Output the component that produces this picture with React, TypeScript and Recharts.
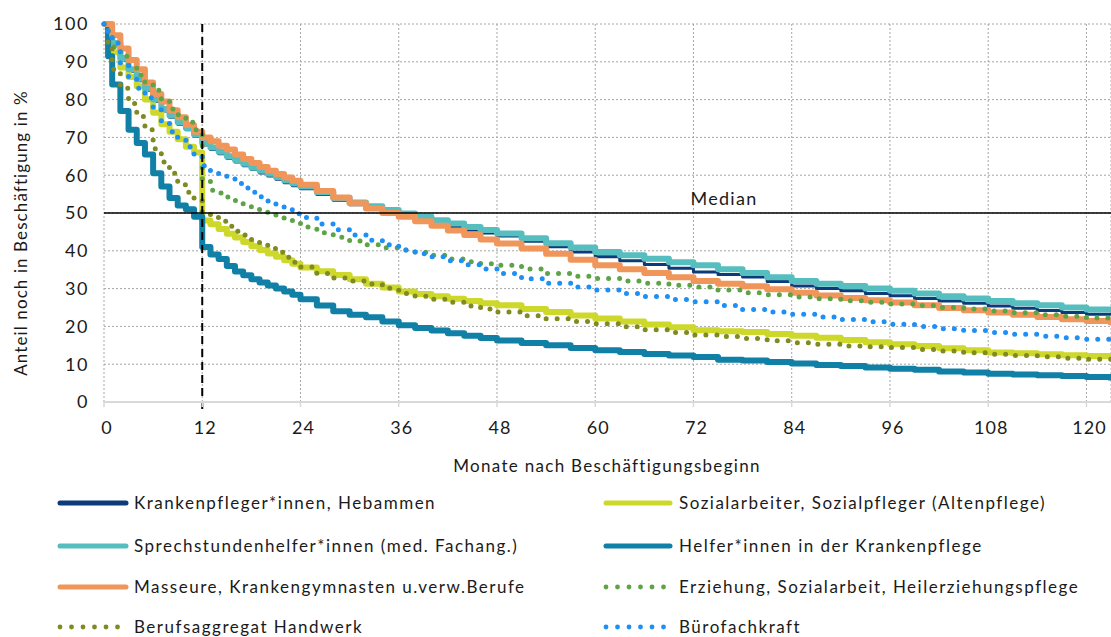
import React from 'react';
import { LineChart, Line, XAxis, YAxis, CartesianGrid, ReferenceLine } from 'recharts';

const MONTHS = [0, 0.5, 1, 2, 3, 4, 5, 6, 7, 8, 9, 10, 11, 12, 13, 14, 15, 16, 17, 18, 19, 20, 21, 22, 23, 24,
  26, 28, 30, 32, 34, 36, 38, 40, 42, 44, 46, 48,
  51, 54, 57, 60, 63, 66, 69, 72, 75, 78, 81, 84, 87, 90, 93, 96, 99, 102, 105, 108, 111, 114, 117, 120, 123];

const krankenpfleger = [100, 97, 94.5, 90.5, 87.5, 85, 82.5, 79.5, 77, 75.3, 73.5, 72, 70.3, 68, 66.8, 65.7, 64.5, 63.5, 62.5, 61.5, 60.6, 59.8, 58.9, 58, 57.2, 56.4,
  54.9, 53.4, 52.2, 51.1, 50.1, 49.2, 48.2, 47.3, 46.4, 45.5, 44.7, 43.9,
  42.5, 41.1, 39.7, 38.4, 37.4, 36.4, 35.4, 34.4, 33.7, 33.1, 31.9, 30.7, 30, 29.4, 28.7, 28.1, 27.4, 26.7, 26.1, 25.4, 24.8, 24.2, 23.7, 23.2, 23.0];

const sozialarbeiter = [100, 95, 92.5, 88.5, 86, 83.5, 80, 76.5, 73.5, 71.5, 69.5, 67.5, 66, 48, 47, 45.8, 44.5, 43.5, 42.3, 41.2, 40.2, 39.3, 38.4, 37.5, 36.6, 35.6,
  34.6, 33.6, 32.5, 31.3, 30.3, 29.2, 28.6, 28, 27.3, 26.7, 26.1, 25.6,
  24.6, 23.8, 22.9, 22.1, 21.3, 20.5, 19.8, 19, 18.7, 18.5, 18, 17.5, 17, 16.4, 15.8, 15.3, 14.8, 14.2, 13.7, 13.1, 12.9, 12.6, 12.4, 12.2, 12];

const sprechstunden = [100, 97, 95, 91, 88, 85.5, 83, 80, 77.5, 75.8, 74, 72.5, 70.8, 68.5, 67.3, 66.2, 65, 64, 63, 62, 61.2, 60.4, 59.5, 58.6, 57.8, 57,
  55.5, 54, 52.8, 51.8, 50.8, 49.9, 49, 48.1, 47.2, 46.3, 45.5, 44.6,
  43.3, 42, 40.9, 39.7, 38.8, 37.9, 37, 36.2, 35.1, 34.1, 33, 32, 31.3, 30.7, 30, 29.4, 28.7, 28, 27.4, 26.7, 26.1, 25.6, 25, 24.5, 23.7];

const helfer = [100, 91.5, 84, 77, 72, 68.5, 65.5, 60.5, 57, 54, 52, 51, 49, 41, 39, 37.8, 36, 34.5, 33.5, 32.5, 31.6, 30.8, 30, 29.2, 28.4, 27.2,
  25.5, 24, 23.1, 22.4, 21.3, 20.3, 19.6, 18.9, 18.2, 17.5, 16.9, 16.3,
  15.6, 15, 14.3, 13.7, 13.2, 12.7, 12.3, 11.9, 11.2, 11, 10.6, 10.2, 9.8, 9.5, 9.1, 8.8, 8.5, 8.1, 7.8, 7.5, 7.3, 7.1, 6.9, 6.6, 5.7];

const masseure = [100, 100, 97, 93.5, 90.5, 88, 84.5, 81.5, 79.5, 77.2, 75.3, 73.3, 71.5, 70, 69, 67.8, 66.8, 65.5, 64.3, 63.2, 62.2, 61.2, 60.3, 59.4, 58.5, 57.5,
  55.8, 54.1, 52.6, 51.2, 50, 49, 47.8, 46.6, 45.4, 44.2, 43, 41.9,
  40.6, 39.2, 37.6, 36.2, 35.1, 34.1, 33, 32, 31.3, 30.6, 29.8, 28.9, 28.2, 27.5, 26.9, 26.3, 25.6, 24.9, 24.3, 23.7, 23.1, 22.5, 21.9, 21.4, 20.4];

const erziehung = [100, 97, 94, 91.5, 88.5, 86.5, 84, 82.5, 80, 77.5, 76, 74, 72, 58.5, 56, 55.3, 54.2, 53.3, 52.3, 51, 50.2, 49.5, 49, 48.5, 48, 46.3,
  44.8, 43.6, 42.6, 41.6, 40.8, 40.2, 39.6, 38.8, 37.8, 37.1, 36.6, 36.2,
  35.2, 34, 33.3, 32.7, 32, 31.4, 30.9, 30.4, 29.6, 28.9, 28.4, 27.8, 27.3, 26.8, 26.4, 25.9, 25.5, 25, 24.6, 24.1, 23.6, 23.1, 22.7, 22.2, 21.6];

const handwerk = [100, 93.5, 88, 83, 79, 75.5, 72, 67, 63.5, 60.5, 57.5, 55.5, 53.5, 50, 48.8, 47.8, 46.5, 45.2, 44.2, 43, 41.8, 40.6, 39.6, 38.3, 37, 35.7,
  34, 32.8, 32, 31.2, 30.1, 28.7, 28, 27.2, 26.4, 25.4, 24.6, 23.8,
  22.8, 22, 21.3, 20.7, 19.9, 19.1, 18.4, 17.7, 17.3, 16.8, 16.2, 15.7, 15.3, 14.8, 14.6, 14.4, 13.9, 13.5, 13, 12.6, 12.3, 12, 11.6, 11.3, 11];

const buero = [100, 97, 95, 89.5, 85.5, 83, 80.5, 78, 74, 71.5, 69.5, 67.5, 65.5, 62.5, 61.2, 60.3, 59, 57.8, 56.6, 55.5, 54.3, 53.2, 52.2, 51, 49.8, 48.8,
  47.1, 45.6, 44.2, 42.8, 41.6, 40.2, 39.2, 38.4, 37.4, 36.3, 35.2, 34,
  32.6, 31.4, 30.4, 29.6, 28.7, 27.9, 27.1, 26.5, 25.5, 24.5, 23.8, 23.2, 22.5, 21.8, 21.2, 20.6, 20, 19.4, 18.9, 18.4, 17.9, 17.4, 17, 16.6, 16.2];

const X_TICKS = [0, 12, 24, 36, 48, 60, 72, 84, 96, 108, 120];
const Y_TICKS = [0, 10, 20, 30, 40, 50, 60, 70, 80, 90, 100];

const SERIES_NAMES = [
  'Krankenpfleger*innen, Hebammen',
  'Sozialarbeiter, Sozialpfleger (Altenpflege)',
  'Sprechstundenhelfer*innen (med. Fachang.)',
  'Helfer*innen in der Krankenpflege',
  'Masseure, Krankengymnasten u.verw.Berufe',
  'Erziehung, Sozialarbeit, Heilerziehungspflege',
  'Berufsaggregat Handwerk',
  'Bürofachkraft',
];
const SERIES_VALUES = [krankenpfleger, sozialarbeiter, sprechstunden, helfer, masseure, erziehung, handwerk, buero];

const SERIES_STYLE = [
  { color: '#0b3b78', width: 3, dotted: false },
  { color: '#cdd82b', width: 6, dotted: false },
  { color: '#57bec0', width: 6, dotted: false },
  { color: '#1180a6', width: 6, dotted: false },
  { color: '#f0965a', width: 6, dotted: false },
  { color: '#5ea447', width: 5, dotted: true },
  { color: '#7f8a22', width: 5, dotted: true },
  { color: '#1e8ff5', width: 5, dotted: true },
];

const KEYS = SERIES_NAMES.map((_, i) => 's' + i);

const data = MONTHS.map((m, i) => {
  const row: Record<string, number> = { m };
  SERIES_VALUES.forEach((vals, k) => { row[KEYS[k]] = vals[i]; });
  return row;
});

const FONT = 'Lato, "Noto Sans", sans-serif';
const TEXT_COLOR = '#1a1a1a';

const LEGEND_ORDER_LEFT = [0, 2, 4, 6];
const LEGEND_ORDER_RIGHT = [1, 3, 5, 7];

function Swatch({ idx, w }: { idx: number; w: number }) {
  const st = SERIES_STYLE[idx];
  if (st.dotted) {
    const dots = [0, 1, 2, 3, 4, 5];
    return (
      <svg width={w} height={10} style={{ display: 'block' }}>
        {dots.map((d) => (
          <circle key={d} cx={3 + d * 11.5} cy={5} r={2.4} fill={st.color} />
        ))}
      </svg>
    );
  }
  return (
    <svg width={w} height={10} style={{ display: 'block' }}>
      <line x1={3} y1={5} x2={w - 3} y2={5} stroke={st.color} strokeWidth={5} strokeLinecap="round" />
    </svg>
  );
}

function LegendBlock() {
  const rowsY = [503, 546, 587, 627];
  const items: React.ReactNode[] = [];
  const textStyle: React.CSSProperties = { marginLeft: 5, whiteSpace: 'nowrap', letterSpacing: '1.5px', lineHeight: '18px' };
  LEGEND_ORDER_LEFT.forEach((idx, r) => {
    items.push(
      <div key={'l' + idx} style={{ position: 'absolute', left: 57, top: rowsY[r] - 9, height: 18, display: 'flex', alignItems: 'center' }}>
        <Swatch idx={idx} w={72} />
        <span style={textStyle}>{SERIES_NAMES[idx]}</span>
      </div>
    );
  });
  LEGEND_ORDER_RIGHT.forEach((idx, r) => {
    items.push(
      <div key={'r' + idx} style={{ position: 'absolute', left: 603, top: rowsY[r] - 9, height: 18, display: 'flex', alignItems: 'center' }}>
        <Swatch idx={idx} w={70} />
        <span style={{ ...textStyle, marginLeft: 6 }}>{SERIES_NAMES[idx]}</span>
      </div>
    );
  });
  return <>{items}</>;
}

export default function App() {
  return (
    <div style={{ position: 'absolute', left: 0, top: 0, width: 1111, height: 637, overflow: 'hidden', background: '#fff', fontFamily: FONT, fontSize: 17, color: TEXT_COLOR }}>
      <LineChart width={1111} height={637} data={data} margin={{ top: 24, right: 0, left: 0, bottom: 195 }}>
        <CartesianGrid stroke="#a6a6a6" strokeDasharray="2 2" strokeWidth={1} />
        <XAxis
          dataKey="m"
          type="number"
          domain={[0, 123]}
          ticks={X_TICKS}
          interval={0}
          height={40}
          tickSize={5}
          tickLine={{ stroke: '#d9d9d9', strokeWidth: 1.5 }}
          axisLine={{ stroke: '#d9d9d9', strokeWidth: 2 }}
          tickMargin={14}
          tick={{ fontFamily: FONT, fontSize: 18, fill: TEXT_COLOR, dx: 3, letterSpacing: 1 }}
          label={{
            content: (p: any) => {
              const vb = p.viewBox || { x: 104, y: 402, width: 1007 };
              return (
                <text x={607} y={vb.y + 70} textAnchor="middle" fontFamily={FONT} fontSize={17} letterSpacing={1.3} fill={TEXT_COLOR}>
                  Monate nach Beschäftigungsbeginn
                </text>
              );
            },
          }}
        />
        <YAxis
          type="number"
          domain={[0, 100]}
          ticks={Y_TICKS}
          interval={0}
          width={104}
          tickSize={0}
          tickLine={false}
          axisLine={false}
          tickMargin={15}
          tick={{ fontFamily: FONT, fontSize: 18, fill: TEXT_COLOR, letterSpacing: 1.6 }}
          label={{
            content: () => (
              <text x={27} y={233} transform="rotate(-90 27 233)" textAnchor="middle" fontFamily={FONT} fontSize={17} letterSpacing={1.1} fill={TEXT_COLOR}>
                Anteil noch in Beschäftigung in %
              </text>
            ),
          }}
        />
        {KEYS.map((k, i) => {
          const st = SERIES_STYLE[i];
          return (
            <Line
              key={k}
              dataKey={k}
              name={SERIES_NAMES[i]}
              type="stepAfter"
              stroke={st.color}
              strokeWidth={st.width}
              strokeDasharray={st.dotted ? '0 11' : undefined}
              strokeLinecap={st.dotted ? 'round' : 'butt'}
              strokeLinejoin="round"
              dot={false}
              activeDot={false}
              isAnimationActive={false}
            />
          );
        })}
        <ReferenceLine
          y={50}
          stroke="#000"
          strokeWidth={1.5}
          label={{
            content: (p: any) => {
              const vb = p.viewBox || { x: 104, y: 213 };
              return (
                <text x={vb.x + 620} y={vb.y - 8} textAnchor="middle" fontFamily={FONT} fontSize={18} letterSpacing={1.3} fill={TEXT_COLOR}>
                  Median
                </text>
              );
            },
          }}
        />
        <ReferenceLine
          x={12}
          stroke="#000"
          strokeWidth={2}
          strokeDasharray="8 5"
          shape={(p: any) => {
            const top = Math.min(p.y1, p.y2);
            const bottom = Math.max(p.y1, p.y2);
            return <line x1={p.x1} x2={p.x2} y1={top} y2={bottom + 8} stroke="#000" strokeWidth={2} strokeDasharray="8 5" />;
          }}
        />
      </LineChart>
      <LegendBlock />
    </div>
  );
}
